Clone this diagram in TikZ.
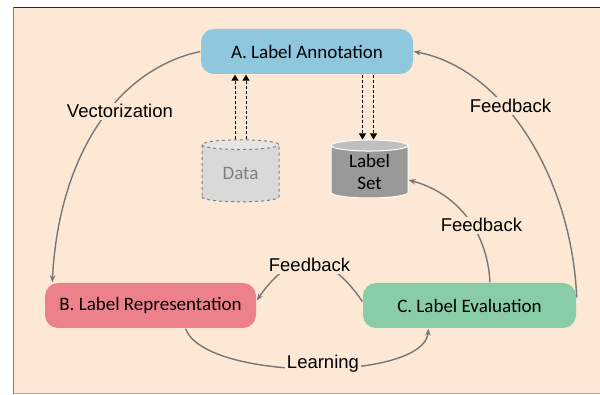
\documentclass[tikz,border=0pt]{standalone}
\usepackage{fontspec}
\setmainfont{Carlito}
\newfontfamily\arialfont{Liberation Sans}
\usetikzlibrary{shapes.geometric,arrows.meta}
\definecolor{nen}{HTML}{FCE8D5}
\definecolor{xanh}{HTML}{8EC7DE}
\definecolor{hong}{HTML}{EC808B}
\definecolor{luc}{HTML}{88CDA6}
\definecolor{vien}{HTML}{777777}
\begin{document}
\begin{tikzpicture}[x=1pt,y=-1pt,line width=1.4pt,
	hop/.style={rounded corners=13pt,minimum width=212pt,minimum height=45pt,inner sep=0pt,font=\fontsize{19}{22}\selectfont},
	tru/.style={cylinder,shape border rotate=90,aspect=0.27,minimum width=77pt,minimum height=62pt,inner sep=0pt,align=center,font=\fontsize{19}{22}\selectfont},
	mui/.style={draw=vien,-{Stealth[length=7pt,width=5.5pt]}},
	netdut/.style={draw=black,line width=1pt,dash pattern=on 3pt off 2pt,-{Triangle[length=6pt,width=7pt]}},
	nhan/.style={fill=nen,inner sep=2pt,font=\arialfont\fontsize{18.5}{22}\selectfont}]
	\useasboundingbox (0,0) rectangle (600,395);
	%	khung nen
	\fill[nen] (13.5,7.5) rectangle (600,393.5);
	\draw[line width=1.5pt,black!85] (13.5,7.5)--(600,7.5);
	\draw[line width=1.5pt,gray] (13.5,7.5)--(13.5,393.5);
	\draw[line width=1pt,gray!70] (13.5,393.5)--(600,393.5);
	%	cac khoi
	\node[hop,fill=xanh] (A) at (307,51.5) {A. Label Annotation};
	\node[hop,fill=hong,minimum width=211pt] (B) at (150.5,305.5) {B. Label Representation};
	\node[hop,fill=luc,minimum width=213pt] (C) at (469.5,305.5) {C. Label Evaluation};
	\node[tru,draw=gray,line width=1pt,dashed,cylinder uses custom fill,cylinder body fill=black!15,cylinder end fill=black!10,text=gray] (D) at (240.5,173.5) {Data};
	\node[tru,draw=white,line width=1pt,cylinder uses custom fill,cylinder body fill=black!40,cylinder end fill=black!25,minimum height=58pt] (LS) at (369.5,172) {Label\\Set};
	%	mui ten net dut
	\draw[netdut] ([xshift=-5.5pt]D.north) -- ([xshift=-5.5pt]D.north |- A.south);
	\draw[netdut] ([xshift=5.5pt]D.north) -- ([xshift=5.5pt]D.north |- A.south);
	\draw[netdut] ([xshift=-7pt]LS.north |- A.south) -- ([xshift=-7pt]LS.north);
	\draw[netdut] ([xshift=4pt]LS.north |- A.south) -- ([xshift=4pt]LS.north);
	%	cac cung
	\draw[mui] (A.west) .. controls +(-88,19) and +(6,-120) .. ([xshift=8pt]B.north west)
		node[nhan,pos=0.4,xshift=8pt,yshift=-5pt]{Vectorization};
	\draw[mui] ([yshift=8pt]C.east) .. controls +(-5,-120) and +(90,17) .. (A.east)
		node[nhan,pos=0.62,xshift=6pt]{Feedback};
	\draw[mui] ([xshift=20.5pt]C.north) .. controls +(-3,-55) and +(45,12) .. ([yshift=-8pt]LS.east)
		node[nhan,pos=0.38,xshift=7pt,yshift=3pt]{Feedback};
	\draw[mui] ([yshift=4pt]C.west) .. controls +(-35,-52) and +(35,-51) .. ([yshift=5pt]B.east)
		node[nhan,pos=0.5,yshift=-3pt]{Feedback};
	\draw[mui] ([xshift=35pt]B.south) .. controls +(20,53) and +(-5,53) .. ([xshift=-41pt]C.south)
		node[nhan,pos=0.53,anchor=base]{Learning};
\end{tikzpicture}
\end{document}
